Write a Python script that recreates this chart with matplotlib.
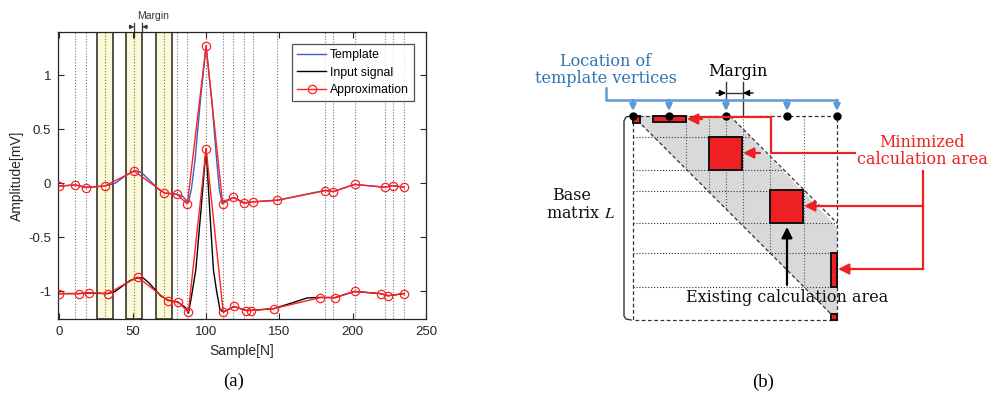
import matplotlib
matplotlib.use('Agg')
import matplotlib.pyplot as plt
from matplotlib.patches import Rectangle, Polygon

# ---- (a) data ----
# template vertices (approximation of the template)
tmpl_vx = [0, 10.8, 17.9, 30.8, 51, 71.5, 80, 87.2, 100, 111.3, 118.6, 125.6, 132.2, 148.6,
           181.3, 186.8, 201.3, 222, 227.3, 235.2]
tmpl_vy = [-0.025, -0.015, -0.04, -0.025, 0.113, -0.09, -0.1, -0.19, 1.27, -0.188, -0.13, -0.185,
           -0.172, -0.157, -0.068, -0.077, -0.01, -0.037, -0.022, -0.037]
# template signal
tmpl_x = [0, 11, 18, 31, 38, 45, 51, 56, 62, 68, 72, 80, 84, 88, 90, 92.5, 96, 100, 104, 107,
          109, 111, 113, 119, 126, 132, 149, 165, 181, 187, 201, 222, 227, 235]
tmpl_y = [-0.025, -0.015, -0.035, -0.025, 0.0, 0.07, 0.12, 0.1, 0.02, -0.06, -0.09, -0.1, -0.12,
          -0.18, -0.05, 0.22, 0.75, 1.27, 0.75, 0.25, -0.05, -0.19, -0.16, -0.13, -0.18, -0.17,
          -0.155, -0.11, -0.065, -0.075, -0.01, -0.035, -0.02, -0.035]
# input vertices (approximation of the input)
inp_vx = [0, 13.3, 20.3, 32.9, 53.3, 73.8, 80.8, 87.9, 100, 111.7, 119, 127, 130.4, 146.1,
          177.9, 188.1, 201.3, 219.1, 224.3, 235]
inp_vy = [-1.02, -1.02, -1.012, -1.02, -0.866, -1.085, -1.097, -1.19, 0.32, -1.19, -1.137, -1.177,
          -1.177, -1.159, -1.057, -1.057, -1.0, -1.02, -1.04, -1.02]
# input signal
inp_x = [0, 13, 20, 33, 38, 43, 48, 53, 57, 61, 65, 69, 74, 81, 86, 88, 90, 93, 96.5, 100,
         102.5, 105, 107.2, 109.5, 112, 119, 127, 130, 146, 160, 169, 178, 188, 201, 219, 224, 235]
inp_y = [-1.02, -1.02, -1.015, -1.02, -1.0, -0.95, -0.9, -0.875, -0.875, -0.92, -0.98, -1.04,
         -1.08, -1.1, -1.15, -1.2, -1.05, -0.8, -0.25, 0.32, -0.25, -0.8, -1.0, -1.17, -1.19,
         -1.14, -1.175, -1.175, -1.16, -1.1, -1.06, -1.055, -1.057, -1.0, -1.02, -1.04, -1.02]
box_centers = [30.8, 51, 71.5]
box_margin = 5.5

# ---- (b) schematic layout (figure pixels) ----
vert_off = [0, 36, 93, 154, 204]
mat_x0, mat_y0, mat_size = 633, 116, 204
marg = 17

RED = '#ee2024'
BLUE = '#5b9bd5'
BLUE_TXT = '#2e75b6'

plt.rcParams['mathtext.fontset'] = 'stix'
fig = plt.figure(figsize=(9.95, 3.96), dpi=100)

# ================= (a) =================
ax = fig.add_axes([58 / 995, 1 - 319 / 396, 368 / 995, 287 / 396])
sans = 'Liberation Sans'
for c in box_centers:
    ax.axvspan(c - box_margin, c + box_margin, facecolor='#fbf9d6', edgecolor='#222222',
               lw=1.1, zorder=1)
for vx in tmpl_vx[1:]:
    ax.axvline(vx, color='0.45', ls=':', lw=0.8, zorder=1.5)

l1, = ax.plot(tmpl_x, tmpl_y, color='#3c5fc0', lw=1.0, zorder=3, label='Template')
l2, = ax.plot(inp_x, inp_y, color='black', lw=1.0, zorder=3, label='Input signal')
l3, = ax.plot(tmpl_vx, tmpl_vy, color='#ff2020', lw=1.0, marker='o', ms=6, mfc='none',
              mec='#ff2020', mew=0.9, zorder=4, label='Approximation')
ax.plot(inp_vx, inp_vy, color='#ff2020', lw=1.0, marker='o', ms=6, mfc='none',
        mec='#ff2020', mew=0.9, zorder=4)

ax.set_xlim(-1, 250)
ax.set_ylim(-1.255, 1.4)
ax.set_xticks([0, 50, 100, 150, 200, 250])
ax.set_yticks([-1, -0.5, 0, 0.5, 1])
ax.set_yticklabels(['-1', '-0.5', '0', '0.5', '1'])
ax.tick_params(direction='in', top=True, right=True, labelsize=9.5, length=4, width=0.8,
               colors='#262626', pad=5)
for t in ax.get_xticklabels() + ax.get_yticklabels():
    t.set_family(sans)
for s in ax.spines.values():
    s.set_linewidth(0.9)
    s.set_color('#262626')
ax.set_xlabel('Sample[N]', fontsize=10, family=sans, color='#262626', labelpad=4)
ax.set_ylabel('Amplitude[mV]', fontsize=10, family=sans, color='#262626', labelpad=3)
leg = ax.legend(handles=[l1, l2, l3], loc='upper right', prop={'family': sans, 'size': 8.8},
                frameon=True, fancybox=False, edgecolor='#262626', borderaxespad=1.0,
                handlelength=2.4, labelspacing=0.45, borderpad=0.4, handletextpad=0.3)
leg.get_frame().set_linewidth(0.9)

# margin marker above second box
tr = ax.get_xaxis_transform()
m0, m1 = box_centers[1], box_centers[1] + box_margin
ax.plot([m0, m0], [0.983, 1.03], color='#333333', lw=0.9, transform=tr, clip_on=False)
ax.plot([m1, m1], [1.0, 1.03], color='#333333', lw=0.9, transform=tr, clip_on=False)
ax.annotate('', xy=(m0, 1.018), xytext=(m0 - 3.5, 1.018), xycoords=tr, textcoords=tr,
            arrowprops=dict(arrowstyle='-|>', color='#333333', lw=0.8, mutation_scale=6,
                            shrinkA=0, shrinkB=0))
ax.annotate('', xy=(m1, 1.018), xytext=(m1 + 3.5, 1.018), xycoords=tr, textcoords=tr,
            arrowprops=dict(arrowstyle='-|>', color='#333333', lw=0.8, mutation_scale=6,
                            shrinkA=0, shrinkB=0))
ax.text(m1 + 7, 1.055, 'Margin', transform=tr, fontsize=7.5, family=sans, ha='center',
        va='center', color='#333333')

# ================= (b) =================
ov = fig.add_axes([0, 0, 1, 1])
ov.set_xlim(0, 995)
ov.set_ylim(396, 0)
ov.axis('off')
serif = 'DejaVu Serif'

x0, y0, S = mat_x0, mat_y0, mat_size
x1, y1 = x0 + S, y0 + S
band_w = 97
# gray band
ov.add_patch(Polygon([(x0, y0), (x0 + band_w, y0), (x1, y0 + S - band_w + 4), (x1, y1)],
                     closed=True, fc='#d9d9d9', ec='none', zorder=1))
ov.plot([x0, x1], [y0, y1], color='#333333', ls='--', lw=0.9, dashes=(3, 2), zorder=2)
ov.plot([x0 + band_w, x1], [y0, y0 + S - band_w], color='#333333', ls='--', lw=0.9,
        dashes=(3, 2), zorder=2)

# grid lines
vlines = [x0 + vert_off[1] + marg, x0 + vert_off[2] - marg, x0 + vert_off[2],
          x0 + vert_off[2] + marg, x0 + vert_off[3] - marg, x0 + vert_off[3] + marg]
for gx in vlines:
    ov.plot([gx, gx], [y0, y0 + (gx - x0)], color='#555555', ls=':', lw=0.8, zorder=2)
hlines = [y0 + vert_off[1] - marg + 2, y0 + vert_off[1] + marg + 1, y0 + vert_off[2] - marg - 1,
          y0 + vert_off[2] + marg - 3, y0 + vert_off[3] - marg, y0 + vert_off[3] + marg]
for gy in hlines:
    ov.plot([x0, min(x1, x0 + band_w + (gy - y0))], [gy, gy], color='#333333', ls=':', lw=0.8,
            zorder=2)

# matrix outline (dashed) and left bracket
ov.plot([x0, x1, x1, x0, x0], [y0, y0, y1, y1, y0], color='#333333', ls='--', lw=0.9,
        dashes=(3, 2), zorder=3)
ov.plot([x0 - 2, x0 - 7, x0 - 9, x0 - 9, x0 - 7, x0 - 2], [y0, y0 + 1, y0 + 5, y1 - 4, y1 - 1, y1],
        color='#333333', lw=1.0, zorder=3)

# red minimized areas
red_boxes = [(x0, y0, 7, 7), (x0 + 20, y0, 33, 6), (x0 + 76, y0 + 21, 33, 33),
             (x0 + 137, y0 + 74, 33, 33), (x1 - 6, y0 + 137, 6, 34), (x1 - 6, y1 - 6, 6, 6)]
for bx, by, bw, bh in red_boxes:
    ov.add_patch(Rectangle((bx, by), bw, bh, fc=RED, ec='#111111', lw=1.4, zorder=4))

# template vertices
vx = [x0 + v for v in vert_off]
ov.plot(vx, [y0] * len(vx), 'o', color='black', ms=5, zorder=5)

# blue bracket with arrows
ov.plot([606, 606, x1], [88, 100, 100], color=BLUE, lw=1.8, zorder=3)
for v in vx:
    ov.annotate('', xy=(v, 111), xytext=(v, 100),
                arrowprops=dict(arrowstyle='-|>', color=BLUE, lw=1.8, mutation_scale=9,
                                shrinkA=0, shrinkB=0))
ov.text(606, 70, 'Location of\ntemplate vertices', color=BLUE_TXT, fontsize=11.5,
        family=serif, ha='center', va='center', linespacing=0.95)

# margin in (b)
mx0, mx1 = x0 + vert_off[2], x0 + vert_off[2] + marg
ov.plot([mx0, mx0], [82, 108], color='#333333', lw=1.0)
ov.plot([mx1, mx1], [82, 116], color='#333333', lw=1.0)
ov.plot([mx0, mx1], [93, 93], color='#333333', lw=1.0)
ov.annotate('', xy=(mx0, 93), xytext=(mx0 - 10, 93),
            arrowprops=dict(arrowstyle='-|>', color='black', lw=1.0, mutation_scale=9,
                            shrinkA=0, shrinkB=0))
ov.annotate('', xy=(mx1, 93), xytext=(mx1 + 10, 93),
            arrowprops=dict(arrowstyle='-|>', color='black', lw=1.0, mutation_scale=9,
                            shrinkA=0, shrinkB=0))
ov.text(738, 72, 'Margin', color='black', fontsize=11.5, family=serif, ha='center', va='center')

# red arrows
ov.text(922, 151, 'Minimized\ncalculation area', color=RED, fontsize=11.5, family=serif,
        ha='center', va='center', linespacing=0.95)
ov.plot([855, 771, 771, 700], [153, 153, 117, 117], color=RED, lw=1.6, zorder=5)
ov.annotate('', xy=(687, 119), xytext=(702, 119),
            arrowprops=dict(arrowstyle='-|>', color=RED, lw=1.6, mutation_scale=16,
                            shrinkA=0, shrinkB=0), zorder=6)
ov.annotate('', xy=(743, 153), xytext=(760, 153),
            arrowprops=dict(arrowstyle='-|>', color=RED, lw=1.6, mutation_scale=16,
                            shrinkA=0, shrinkB=0), zorder=6)
ov.plot([923, 923], [171, 269], color=RED, lw=1.6, zorder=5)
ov.plot([923, 815], [206, 206], color=RED, lw=1.6, zorder=5)
ov.annotate('', xy=(804, 206), xytext=(818, 206),
            arrowprops=dict(arrowstyle='-|>', color=RED, lw=1.6, mutation_scale=16,
                            shrinkA=0, shrinkB=0), zorder=6)
ov.plot([923, 850], [269, 269], color=RED, lw=1.6, zorder=5)
ov.annotate('', xy=(838, 269), xytext=(852, 269),
            arrowprops=dict(arrowstyle='-|>', color=RED, lw=1.6, mutation_scale=16,
                            shrinkA=0, shrinkB=0), zorder=6)

# existing calculation area arrow
ov.annotate('', xy=(787, 227), xytext=(787, 285),
            arrowprops=dict(arrowstyle='-|>', color='black', lw=1.6, mutation_scale=16,
                            shrinkA=0, shrinkB=0), zorder=6)
ov.text(787, 298, 'Existing calculation area', color='#111111', fontsize=11.5, family=serif,
        ha='center', va='center', zorder=7)

ov.text(572, 195, 'Base', color='#111111', fontsize=11.5, family=serif, ha='center', va='center')
ov.text(580, 213, 'matrix $L$', color='#111111', fontsize=11.5, family=serif, ha='center',
        va='center')

ov.text(234, 381, '(a)', fontsize=13.5, family='Liberation Serif', ha='center', va='center')
ov.text(763, 382, '(b)', fontsize=13.5, family='Liberation Serif', ha='center', va='center')

fig.savefig('out.png', dpi=100)
